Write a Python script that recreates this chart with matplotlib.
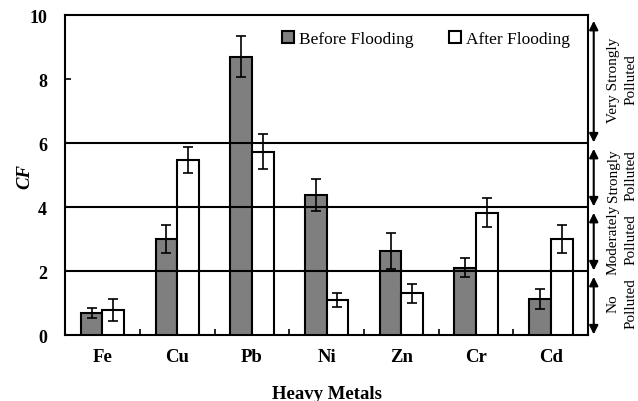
import matplotlib
matplotlib.use("Agg")
import matplotlib.pyplot as plt
import numpy as np
from matplotlib.ticker import FixedLocator

metals = ["Fe", "Cu", "Pb", "Ni", "Zn", "Cr", "Cd"]
before = [0.68, 3.0, 8.7, 4.37, 2.63, 2.11, 1.13]
before_err = [0.16, 0.45, 0.65, 0.5, 0.55, 0.3, 0.32]
after = [0.78, 5.48, 5.73, 1.1, 1.31, 3.83, 3.0]
after_err = [0.35, 0.4, 0.55, 0.22, 0.3, 0.45, 0.45]
thresholds = [2, 4, 6]
zones = [(6, 10, "Very Strongly\nPolluted"), (4, 6, "Strongly\nPolluted"),
         (2, 4, "Moderately\nPolluted"), (0, 2, "No\nPolluted")]

plt.rcParams['font.family'] = ['Liberation Serif', 'DejaVu Serif']

fig = plt.figure(figsize=(6.38, 4.02), dpi=100)
ax = fig.add_axes([0.102, 0.164, 0.820, 0.796])

x = np.arange(len(metals))
w = 0.29
ax.bar(x - w/2, before, w, color="#7f7f7f", edgecolor="black", linewidth=1.5,
       label="Before Flooding", zorder=3)
ax.bar(x + w/2, after, w, color="white", edgecolor="black", linewidth=1.5,
       label="After Flooding", zorder=3)
ax.errorbar(x - w/2, before, yerr=before_err, fmt="none", ecolor="black",
            elinewidth=1.2, capsize=3.5, capthick=1.2, zorder=4)
ax.errorbar(x + w/2, after, yerr=after_err, fmt="none", ecolor="black",
            elinewidth=1.2, capsize=3.5, capthick=1.2, zorder=4)

for t in thresholds:
    ax.axhline(t, color="black", linewidth=1.5, zorder=5)

ax.set_xlim(-0.5, len(metals) - 0.5)
ax.set_ylim(0, 10)
ax.set_yticks([0, 2, 4, 6, 8, 10])
ax.set_xticks(x)
ax.set_xticklabels(metals, fontweight="bold", fontsize=13.5)
ax.xaxis.set_minor_locator(FixedLocator(x[:-1] + 0.5))
ax.tick_params(axis="x", which="major", length=0, pad=9)
ax.tick_params(axis="x", which="minor", direction="in", length=4, width=1.2)
ax.tick_params(axis="y", direction="in", length=4, width=1.2, labelsize=13, pad=13)
for lbl in ax.get_yticklabels():
    lbl.set_fontweight("bold")
for s in ax.spines.values():
    s.set_linewidth(1.5)

ax.set_ylabel("CF", fontsize=13.5, fontweight="bold", fontstyle="italic")
ax.yaxis.set_label_coords(-0.06, 0.5)
ax.set_xlabel("Heavy Metals", fontsize=13.5, fontweight="bold")
ax.xaxis.set_label_coords(0.5, -0.155)
ax.xaxis.label.set_va("top")

leg = ax.legend(loc="upper right", ncol=2, frameon=False, fontsize=12.5,
                bbox_to_anchor=(0.995, 1.0), handlelength=0.7, handleheight=0.7,
                handletextpad=0.3, columnspacing=2.0)

trans = matplotlib.transforms.blended_transform_factory(ax.transAxes, ax.transData)
for lo, hi, label in zones:
    ax.annotate("", xy=(1.0105, hi - 0.18), xytext=(1.0105, lo + 0.02),
                xycoords=trans, textcoords=trans, annotation_clip=False,
                arrowprops=dict(arrowstyle="<|-|>", color="black", lw=1.5,
                                mutation_scale=13, shrinkA=0, shrinkB=0))
    ax.text(1.065, (lo + hi) / 2, label, transform=trans, rotation=90,
            ha="center", va="center", fontsize=11, linespacing=1.45,
            multialignment="center", clip_on=False)

fig.savefig("out.png", dpi=100)
